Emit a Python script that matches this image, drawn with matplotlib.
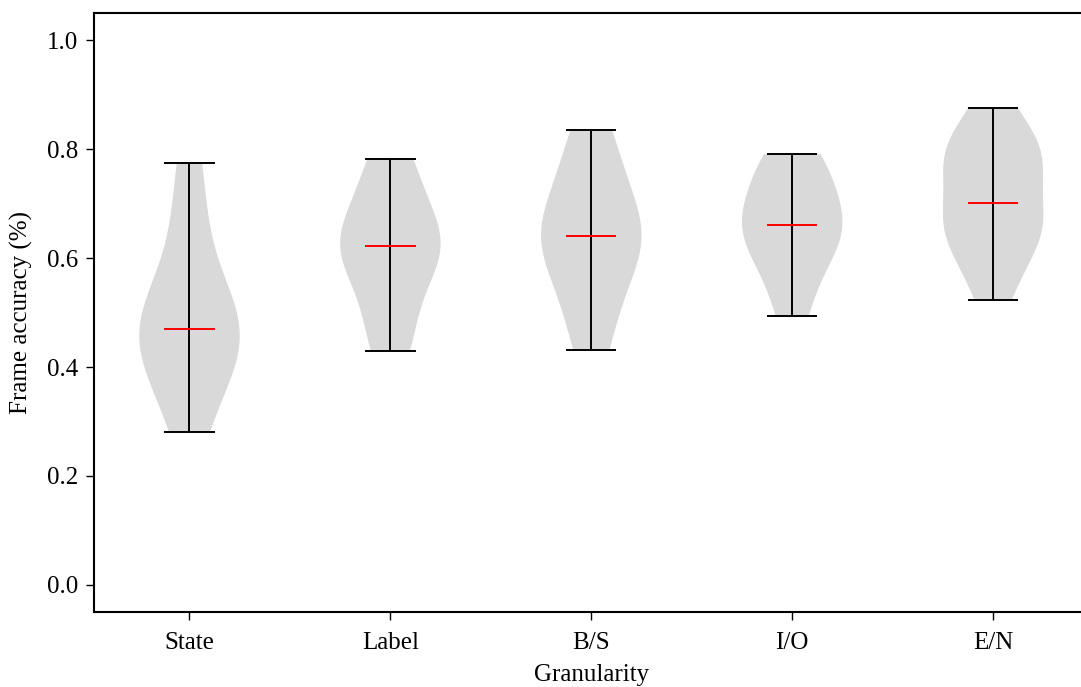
import matplotlib
matplotlib.use('Agg')
import matplotlib.pyplot as plt

# Frame accuracy per run, grouped by annotation granularity
granularity = ['State', 'Label', 'B/S', 'I/O', 'E/N']

acc_state = [0.28, 0.36, 0.42, 0.44, 0.46, 0.478, 0.50, 0.56, 0.66, 0.775]
acc_label = [0.43, 0.47, 0.55, 0.60, 0.62, 0.626, 0.64, 0.68, 0.75, 0.782]
acc_bs = [0.432, 0.50, 0.57, 0.61, 0.635, 0.647, 0.67, 0.72, 0.78, 0.835]
acc_io = [0.493, 0.56, 0.61, 0.635, 0.65, 0.67, 0.70, 0.73, 0.77, 0.791]
acc_en = [0.524, 0.57, 0.62, 0.645, 0.655, 0.665, 0.68, 0.722,
          0.77, 0.78, 0.79, 0.80, 0.83, 0.875]

data = [acc_state, acc_label, acc_bs, acc_io, acc_en]

plt.rcParams['font.family'] = ['Liberation Serif', 'DejaVu Serif']
plt.rcParams['font.size'] = 18

fig = plt.figure(figsize=(10.81, 6.87), dpi=100)
ax = fig.add_axes([0.087, 0.109, 0.920, 0.872])

parts = ax.violinplot(data, showmedians=True)
for body in parts['bodies']:
    body.set_facecolor('#d9d9d9')
    body.set_edgecolor('none')
    body.set_alpha(1)
for key in ['cbars', 'cmins', 'cmaxes']:
    parts[key].set_color('black')
    parts[key].set_linewidth(1.4)
parts['cmedians'].set_color('red')
parts['cmedians'].set_linewidth(1.4)

ax.set_xticks(range(1, len(granularity) + 1))
ax.set_xticklabels(granularity)
ax.set_ylim(-0.05, 1.05)
ax.set_yticks([0.0, 0.2, 0.4, 0.6, 0.8, 1.0])
ax.set_xlabel('Granularity', labelpad=7)
ax.set_ylabel('Frame accuracy (%)', labelpad=10)
ax.tick_params(length=5.5, width=1, pad=6)
ax.tick_params(axis='x', pad=9)
for spine in ax.spines.values():
    spine.set_linewidth(1.5)

plt.savefig('out.png', dpi=100)
